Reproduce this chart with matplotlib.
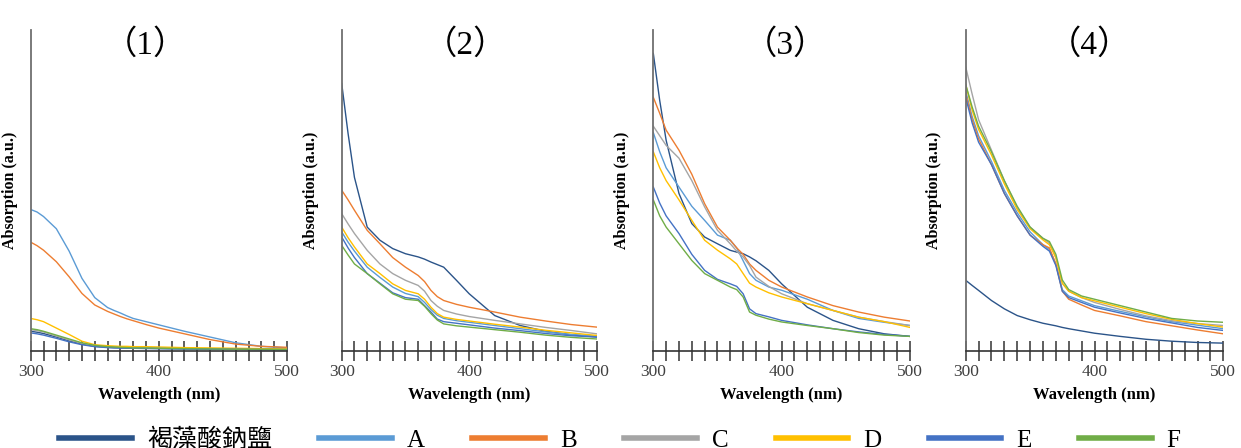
from matplotlib import pyplot as plt
from matplotlib.lines import Line2D
from matplotlib.ticker import MultipleLocator

plt.rcParams['font.family'] = ['Liberation Serif', 'Noto Sans CJK TC']

wavelength = [300, 305, 310, 320, 330, 340, 350, 360, 365, 370, 375, 380,
              390, 400, 420, 440, 460, 480, 500]

series_names = ['褐藻酸鈉鹽', 'A', 'B', 'C', 'D', 'E', 'F']
series_colors = ['#2B5489', '#5B9BD5', '#ED7D31', '#A5A5A5', '#FFC000', '#4472C4', '#70AD47']
panel_titles = ['（1）', '（2）', '（3）', '（4）']

# panel (1)
p1_na = [.06, .057, .053, .042, .030, .020, .013, .010, .009, .008, .008, .007, .007, .006, .005, .005, .004, .003, .003]
p1_a = [.44, .432, .418, .38, .31, .225, .165, .134, .125, .117, .108, .10, .09, .08, .06, .042, .024, .013, .008]
p1_b = [.338, .327, .313, .277, .23, .178, .142, .122, .114, .106, .099, .093, .081, .07, .052, .034, .02, .013, .01]
p1_c = [.065, .062, .058, .045, .033, .022, .015, .012, .011, .010, .009, .009, .008, .008, .007, .006, .005, .004, .004]
p1_d = [.10, .096, .09, .07, .05, .029, .018, .015, .014, .013, .013, .012, .012, .011, .009, .008, .007, .006, .005]
p1_e = [.055, .052, .048, .038, .027, .018, .012, .009, .008, .008, .007, .007, .006, .006, .005, .004, .004, .003, .003]
p1_f = [.068, .065, .060, .048, .036, .024, .016, .012, .011, .010, .009, .008, .008, .007, .006, .005, .004, .004, .003]

# panel (2)
p2_na = [.833, .677, .54, .385, .344, .318, .302, .292, .285, .276, .268, .26, .219, .177, .109, .078, .06, .049, .042]
p2_a = [.37, .338, .31, .26, .228, .198, .178, .168, .15, .128, .11, .10, .093, .088, .078, .068, .058, .05, .045]
p2_b = [.5, .47, .4375, .375, .333, .29, .26, .234, .215, .1875, .168, .156, .144, .135, .12, .104, .092, .081, .073]
p2_c = [.427, .395, .365, .3125, .27, .24, .219, .203, .185, .156, .138, .125, .114, .106, .094, .083, .072, .0625, .052]
p2_d = [.385, .352, .323, .27, .24, .208, .1875, .177, .16, .135, .115, .104, .097, .092, .082, .073, .063, .055, .047]
p2_e = [.354, .32, .29, .24, .21, .18, .165, .16, .14, .12, .098, .09, .085, .08, .07, .062, .053, .046, .042]
p2_f = [.328, .298, .27, .24, .208, .177, .16, .156, .138, .115, .095, .083, .077, .073, .065, .057, .048, .041, .036]

# panel (3)
p3_na = [.927, .78, .656, .49, .396, .354, .333, .3125, .307, .302, .292, .28, .25, .208, .135, .094, .068, .052, .044]
p3_a = [.68, .62, .57, .51, .45, .406, .36, .344, .32, .28, .24, .219, .198, .188, .16, .125, .10, .088, .078]
p3_b = [.79, .74, .6875, .625, .55, .458, .385, .344, .32, .30, .27, .25, .219, .198, .167, .14, .12, .104, .092]
p3_c = [.70, .67, .64, .60, .53, .448, .375, .333, .31, .292, .265, .229, .20, .177, .146, .125, .104, .09, .078]
p3_d = [.62, .57, .53, .47, .406, .344, .313, .286, .27, .24, .21, .198, .18, .167, .146, .125, .104, .09, .072]
p3_e = [.51, .46, .42, .365, .30, .25, .222, .208, .20, .177, .13, .115, .105, .094, .08, .068, .058, .05, .044]
p3_f = [.47, .42, .385, .333, .281, .24, .219, .198, .19, .167, .12, .11, .098, .089, .078, .068, .056, .048, .044]

# panel (4)
p4_na = [.219, .203, .1875, .156, .13, .109, .096, .085, .081, .077, .072, .068, .061, .054, .044, .035, .029, .025, .023]
p4_a = [.81, .73, .67, .59, .50, .43, .37, .33, .315, .27, .19, .17, .155, .14, .122, .105, .09, .079, .068]
p4_b = [.80, .72, .66, .58, .49, .42, .36, .33, .32, .27, .185, .16, .142, .125, .108, .09, .077, .064, .052]
p4_c = [.885, .80, .72, .625, .53, .445, .385, .35, .335, .29, .21, .185, .165, .15, .128, .108, .093, .084, .078]
p4_d = [.83, .75, .69, .61, .52, .44, .38, .345, .33, .29, .21, .185, .165, .155, .135, .115, .097, .084, .073]
p4_e = [.79, .71, .65, .58, .49, .42, .36, .325, .31, .265, .185, .165, .15, .135, .117, .10, .086, .072, .0625]
p4_f = [.83, .76, .70, .62, .53, .45, .385, .35, .34, .30, .22, .19, .17, .16, .14, .12, .10, .092, .088]

panels = [
    [p1_na, p1_a, p1_b, p1_c, p1_d, p1_e, p1_f],
    [p2_na, p2_a, p2_b, p2_c, p2_d, p2_e, p2_f],
    [p3_na, p3_a, p3_b, p3_c, p3_d, p3_e, p3_f],
    [p4_na, p4_a, p4_b, p4_c, p4_d, p4_e, p4_f],
]

W, H = 1241, 448
fig = plt.figure(figsize=(W / 100, H / 100), dpi=100)

# pixel layout of each axes: left, width
ax_left = [30.7, 341.7, 653.3, 965.7]
ax_width = [256.3, 255.0, 256.7, 257.6]
ax_top, ax_bottom = 30, 350.5
title_x = [0.447, 0.486, 0.514, 0.482]
ylab_off = [-13, -23, -23, -24]

for k in range(4):
    ax = fig.add_axes([ax_left[k] / W, (H - ax_bottom) / H,
                       ax_width[k] / W, (ax_bottom - ax_top) / H])
    for ys, c in zip(panels[k], series_colors):
        ax.plot(wavelength, ys, color=c, lw=1.0)
    ax.set_xlim(300, 500)
    ax.set_ylim(0, 1)
    for s in ['top', 'right']:
        ax.spines[s].set_visible(False)
    ax.spines['left'].set_color('#707070')
    ax.spines['left'].set_linewidth(1.3)
    ax.spines['bottom'].set_color('#333333')
    ax.spines['bottom'].set_linewidth(1.2)
    ax.set_yticks([])
    ax.xaxis.set_major_locator(MultipleLocator(100))
    ax.xaxis.set_minor_locator(MultipleLocator(10))
    ax.tick_params(axis='x', which='both', direction='inout', length=14,
                   width=1.1, color='#333333')
    ax.tick_params(axis='x', which='major', labelsize=12.5, pad=3,
                   labelcolor='#404040')
    ax.set_xlabel('Wavelength (nm)', fontsize=12, fontweight='bold', labelpad=5)
    ax.set_ylabel('Absorption (a.u.)', fontsize=11.5, fontweight='bold')
    ax.yaxis.set_label_coords(ylab_off[k] / ax_width[k], 0.5)
    ax.text(title_x[k], 0.953, panel_titles[k], transform=ax.transAxes,
            ha='center', va='center', fontsize=24)

handles = [Line2D([0], [0], color=c, lw=4) for c in series_colors]
fig.legend(handles, series_names, loc='center', bbox_to_anchor=(0.4996, 0.018),
           ncol=7, frameon=False, handlelength=2.9, handletextpad=0.6,
           columnspacing=1.9, prop={'family': ['Liberation Serif', 'Noto Sans CJK TC'], 'size': 18})

fig.savefig('out.png', dpi=100)
